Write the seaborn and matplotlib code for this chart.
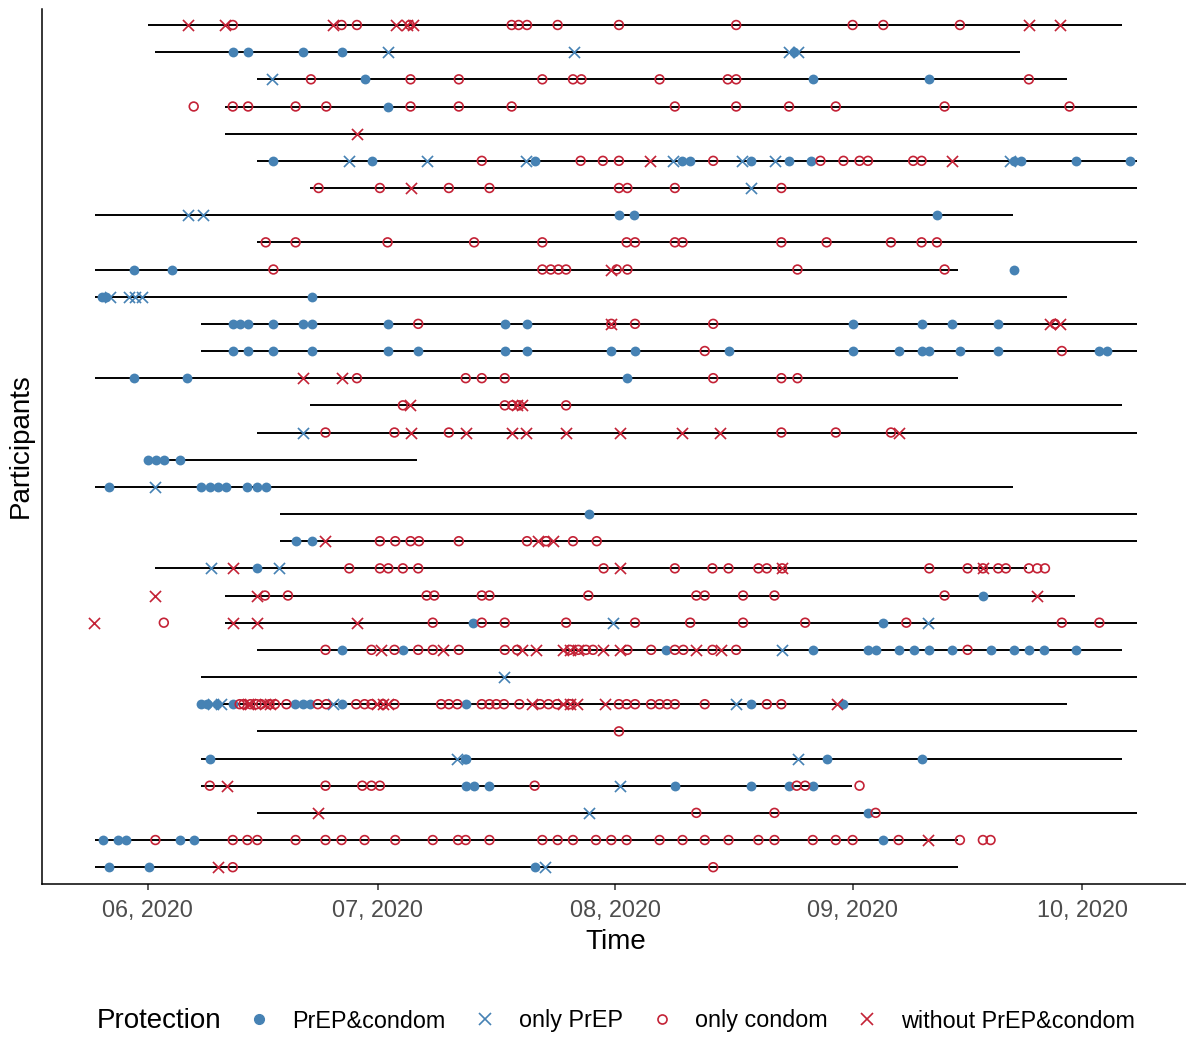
import pandas as pd
import matplotlib
matplotlib.use('Agg')
import matplotlib.pyplot as plt
import matplotlib.dates as mdates
from matplotlib.lines import Line2D
import seaborn as sns

# observation window per participant (days after 2020-06-01), top row first
seg_start = [0.0, 1.0, 14.3, 10.1, 10.1, 14.3, 21.2, -6.9, 14.3, -6.9, -6.9, 7.0, 7.0, -6.9, 21.2, 14.3,
             0.0, -6.9, 17.2, 17.2, 1.0, 10.1, 10.1, 14.3, 7.0, 7.0, 14.3, 7.0, 7.0, 14.3, -6.9, -6.9]
seg_end = [127.2, 113.8, 120.0, 129.1, 129.1, 129.1, 129.1, 112.9, 129.1, 105.8, 120.0, 129.1, 129.1, 105.8, 127.1, 129.1,
           35.1, 112.9, 129.1, 129.1, 114.7, 121.0, 129.1, 127.1, 129.1, 120.0, 129.1, 127.1, 91.9, 129.1, 105.8, 105.8]

# event days per participant, one list per protection type
prep_condom = [
    [], [11.1, 13.1, 20.3, 25.3, 84.3], [28.3, 86.8, 102.0], [31.4], [],
    [16.4, 29.3, 50.5, 69.7, 70.8, 78.7, 83.7, 86.6, 113.0, 114.0, 121.2, 128.2],
    [], [61.5, 63.5, 103.0], [], [-1.8, 3.2, 113.0], [-6.0, -5.4, 21.4],
    [11.1, 12.1, 13.1, 16.4, 20.3, 21.4, 31.3, 46.6, 49.5, 92.0, 101.0, 105.0, 111.0],
    [11.1, 13.1, 16.4, 21.4, 31.3, 35.3, 46.6, 49.5, 60.5, 63.6, 75.8, 92.0, 98.0, 101.0, 102.0, 106.0, 111.0, 124.2, 125.2],
    [-1.8, 5.1, 62.6], [], [],
    [0.0, 1.1, 2.1, 4.2], [-5.0, 7.0, 8.1, 9.2, 10.2, 13.0, 14.3, 15.4], [57.6], [19.3, 21.4],
    [14.3], [109.0], [42.5, 96.0],
    [25.3, 33.3, 67.7, 86.8, 94.0, 95.1, 98.0, 100.0, 102.0, 105.0, 110.0, 113.0, 115.0, 117.0, 121.2],
    [], [7.0, 7.7, 9.0, 11.1, 19.2, 20.2, 21.2, 25.3, 41.5, 78.7, 90.8], [],
    [8.1, 41.4, 41.6, 88.7, 101.0], [41.5, 42.6, 44.6, 68.8, 78.7, 83.7, 86.8], [94.0],
    [-5.9, -3.9, -2.9, 4.2, 6.0, 96.0], [-5.0, 0.1, 50.5],
]
only_prep = [
    [], [31.4, 55.6, 83.7, 84.9], [16.2], [], [], [26.3, 36.4, 49.4, 68.6, 77.5, 81.9, 112.6],
    [78.7], [5.2, 7.2], [], [], [-4.9, -2.4, -1.6, -0.8], [], [], [], [], [20.2],
    [], [1.0], [], [], [8.2, 17.1], [], [60.7, 101.9], [82.8],
    [46.5], [8.5, 9.6, 24.2, 76.8], [], [40.3, 84.9], [61.6], [57.6], [], [51.8],
]
only_condom = [
    [11.1, 25.3, 27.3, 34.2, 47.5, 48.4, 49.5, 53.5, 61.5, 76.8, 92.0, 96.0, 106.0],
    [],
    [21.3, 34.3, 40.6, 51.5, 55.5, 56.6, 66.8, 75.7, 76.8, 115.0],
    [6.0, 11.1, 13.1, 19.3, 23.3, 34.3, 40.6, 47.5, 68.8, 76.8, 83.7, 89.8, 104.0, 120.3],
    [],
    [43.6, 56.5, 59.4, 61.5, 73.8, 87.8, 90.8, 92.9, 94.0, 99.9, 101.0],
    [22.3, 30.3, 39.3, 44.6, 61.5, 62.6, 68.8, 82.7],
    [],
    [15.4, 19.3, 31.3, 42.6, 51.5, 62.5, 63.6, 68.8, 69.8, 82.7, 88.6, 97.0, 101.0, 103.0],
    [16.4, 51.5, 52.6, 53.6, 54.6, 61.2, 62.6, 84.8, 104.0],
    [],
    [35.3, 60.5, 63.6, 73.8, 118.4],
    [72.7, 119.3],
    [27.3, 41.5, 43.6, 46.6, 73.8, 82.7, 84.8],
    [33.3, 46.6, 47.6, 48.5, 54.6],
    [23.2, 32.2, 39.3, 82.7, 89.8, 97.0],
    [], [], [],
    [30.3, 32.3, 34.3, 35.4, 40.6, 49.5, 52.0, 55.5, 58.6],
    [26.3, 30.3, 31.4, 33.3, 35.3, 59.5, 68.8, 73.7, 75.8, 79.7, 80.8, 82.8, 102.0, 107.0, 109.0, 111.0, 112.0,
     115.0, 116.1, 117.1],
    [15.3, 18.3, 36.4, 37.4, 43.6, 44.6, 57.5, 71.6, 72.7, 77.7, 81.8, 104.0],
    [2.1, 37.2, 43.6, 46.6, 54.6, 63.6, 70.8, 77.7, 85.8, 99.0, 119.3, 124.2],
    [23.2, 29.2, 32.2, 35.3, 37.2, 40.6, 46.6, 48.2, 55.1, 56.2, 57.2, 58.1, 62.6, 65.7, 68.8, 69.9, 73.7, 76.8, 107.0],
    [],
    [12.0, 12.5, 13.4, 14.2, 14.8, 15.9, 16.6, 18.1, 22.2, 23.3, 27.2, 28.3, 29.2, 30.7, 32.2, 38.3, 39.3, 40.4,
     43.6, 44.6, 45.5, 46.5, 48.5, 51.2, 52.3, 53.4, 55.1, 61.5, 62.5, 63.6, 65.7, 66.8, 67.8, 68.8, 72.7, 80.8, 82.7],
    [61.5],
    [],
    [8.1, 23.2, 28.0, 29.2, 30.3, 50.5, 84.7, 85.8, 92.9],
    [71.6, 81.8, 95.0],
    [1.0, 11.1, 13.0, 14.3, 19.3, 23.2, 25.3, 28.3, 32.3, 37.2, 40.5, 41.5, 44.6, 51.5, 53.5, 55.5, 58.5, 60.5,
     62.5, 66.8, 69.8, 72.7, 75.8, 79.7, 81.8, 86.8, 89.8, 92.0, 98.0, 106.0, 109.0, 110.0],
    [11.1, 73.8],
]
without = [
    [5.2, 10.1, 24.2, 32.4, 33.9, 34.6, 115.0, 119.1], [], [], [], [27.3], [65.6, 105.0], [34.4], [], [],
    [60.5], [], [60.5, 117.8, 119.0], [], [20.2, 25.3], [34.2, 48.2, 48.9],
    [34.4, 41.5, 47.5, 49.4, 54.6, 61.6, 69.7, 74.7, 98.0],
    [], [], [], [23.2, 51.0, 52.9], [11.1, 61.7, 82.8, 109.0], [1.0, 14.2, 116.1], [-7.0, 11.1, 14.2, 27.3],
    [30.5, 38.5, 48.8, 50.7, 54.2, 55.1, 56.2, 59.4, 61.6, 71.6, 74.8],
    [], [13.1, 13.4, 15.3, 15.9, 29.9, 30.7, 31.4, 50.1, 54.2, 55.1, 56.0, 59.7, 89.9],
    [], [], [10.3], [22.2], [101.9], [9.2],
]

categories = ['PrEP&condom', 'only PrEP', 'only condom', 'without PrEP&condom']
blue = '#4682B4'
red = '#C42236'

base = pd.Timestamp('2020-06-01')


def to_num(days):
    return mdates.date2num(base + pd.to_timedelta(pd.Series(days, dtype=float), unit='D'))


records = []
for cat, lists in zip(categories, [prep_condom, only_prep, only_condom, without]):
    for i, days in enumerate(lists):
        for d in days:
            records.append((i + 1, d, cat))
pts = pd.DataFrame(records, columns=['participant', 'day', 'protection'])
pts['date'] = to_num(pts['day'])

sns.set_theme(style='ticks')
plt.rcParams['font.family'] = ['Liberation Sans', 'DejaVu Sans']
plt.rcParams['text.color'] = 'black'
plt.rcParams['axes.labelcolor'] = 'black'

fig = plt.figure(figsize=(11.86, 10.39), dpi=100)
ax = fig.add_axes([42 / 1186, 1 - 883.5 / 1039, (1189 - 42) / 1186, (883.5 - 8.7) / 1039])

n = len(seg_start)
ax.hlines(y=range(1, n + 1), xmin=to_num(seg_start), xmax=to_num(seg_end), color='black', lw=1.4, zorder=1)

styles = {
    'PrEP&condom': dict(marker='o', color=blue, s=50, linewidth=0),
    'only PrEP': dict(marker='x', color=blue, s=64, linewidths=1.2),
    'only condom': dict(marker='o', color=red, facecolors='none', edgecolors=red, s=40, linewidths=1.2),
    'without PrEP&condom': dict(marker='x', color=red, s=64, linewidths=1.2),
}
for cat in categories:
    sub = pts[pts['protection'] == cat]
    sns.scatterplot(data=sub, x='date', y='participant', ax=ax, zorder=3, legend=False, **styles[cat])

ax.set_xlim(to_num([-13.8, 135.9]))
ax.set_ylim(n + 0.6, 0.4)
ax.set_yticks([])
ax.xaxis.set_major_locator(mdates.MonthLocator())
ax.xaxis.set_major_formatter(mdates.DateFormatter('%m, %Y'))
ax.tick_params(axis='x', colors='#333333', labelcolor='#4D4D4D', labelsize=16.8, length=4, width=1.1, pad=7)
for side in ['top', 'right']:
    ax.spines[side].set_visible(False)
for side in ['left', 'bottom']:
    ax.spines[side].set_color('black')
    ax.spines[side].set_linewidth(1.1)
ax.set_xlabel('Time', fontsize=20, labelpad=5, color='black')
ax.set_ylabel('Participants', fontsize=20, labelpad=6, color='black')

handles = [
    Line2D([], [], marker='o', color=blue, linestyle='none', markersize=7),
    Line2D([], [], marker='x', color=blue, linestyle='none', markersize=8, markeredgewidth=1.2),
    Line2D([], [], marker='o', color=red, markerfacecolor='none', linestyle='none', markersize=6.5, markeredgewidth=1.2),
    Line2D([], [], marker='x', color=red, linestyle='none', markersize=8, markeredgewidth=1.2),
]
fig.text(97 / 1186, 1 - 1021 / 1039, 'Protection', fontsize=20, ha='left', va='center', color='black')
fig.legend(handles, categories, loc='center left', bbox_to_anchor=(247 / 1186, 1 - 1021 / 1039), ncol=4,
           frameon=False, fontsize=16.8, handlelength=1.0, handletextpad=0.95, columnspacing=1.17,
           borderpad=0, borderaxespad=0, labelcolor='black')

fig.savefig('out.png', dpi=100)
